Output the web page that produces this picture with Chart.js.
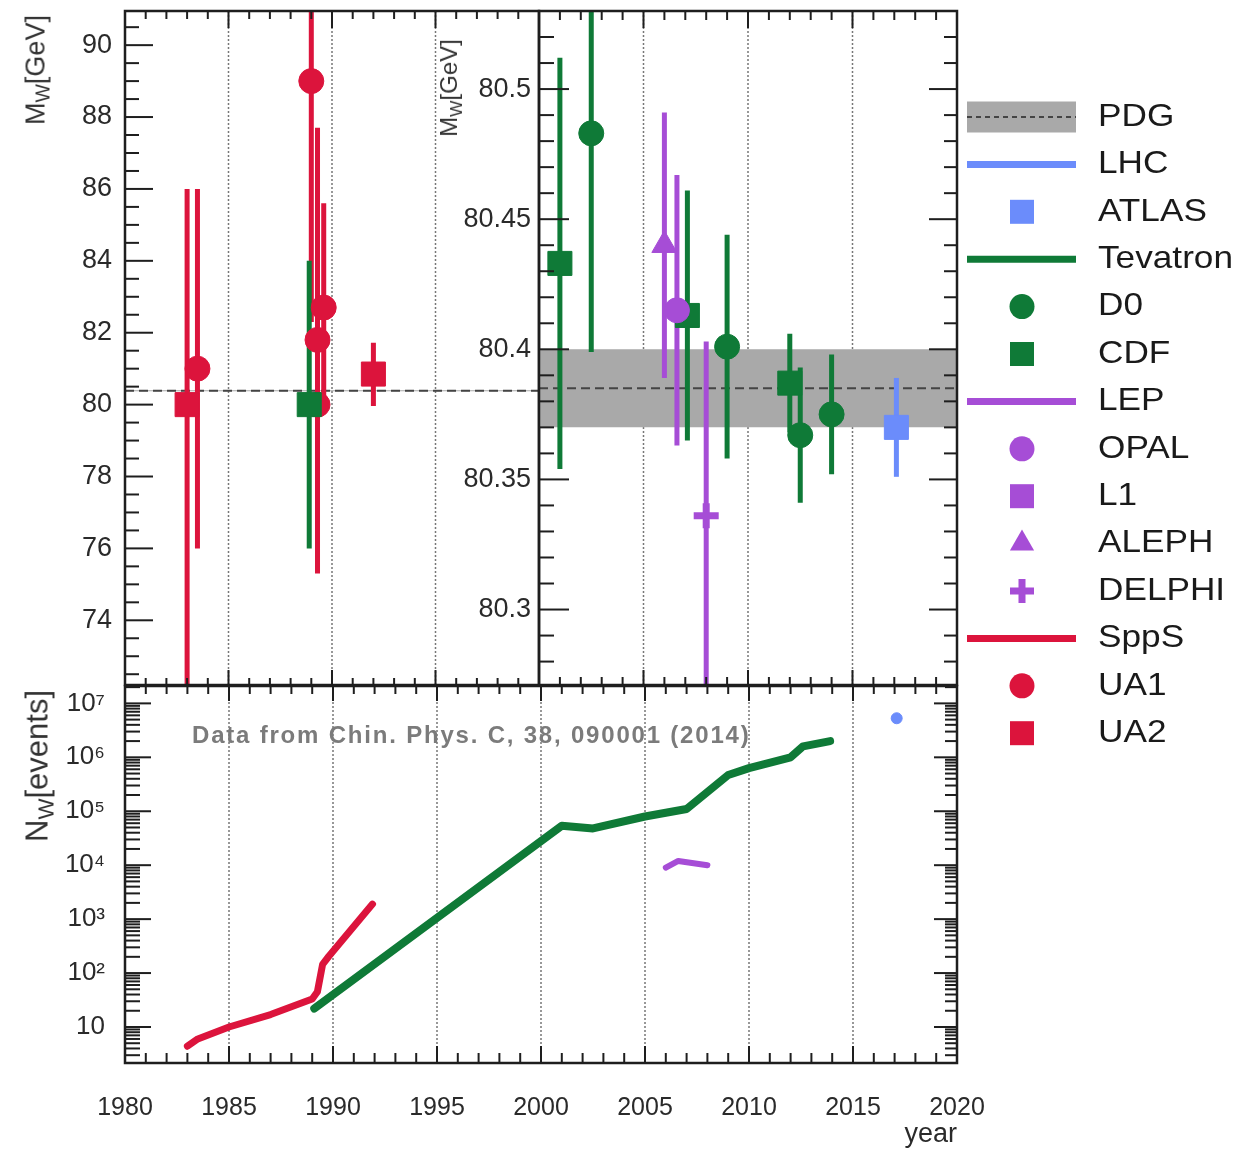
<!DOCTYPE html>
<html lang="en">
<head>
<meta charset="UTF-8">
<meta name="viewport" content="width=device-width, initial-scale=1.0">
<title>W boson mass measurements</title>
<script src="https://cdn.jsdelivr.net/npm/chart.js@4.4.3/dist/chart.umd.min.js"></script>
<style>
  body { margin: 0; background: #fff; font-family: 'Liberation Sans', Arial, sans-serif; }
  #page { position: relative; width: 1247px; height: 1155px; overflow: hidden; }
  #page canvas { position: absolute; }
  .ytitle { position: absolute; color: #333; white-space: nowrap; line-height: 1; transform: translate(-50%, -50%) rotate(-90deg); }
  .ytitle sub { font-size: 72%; vertical-align: -0.28em; line-height: 0; }
  #note { position: absolute; left: 192px; top: 723px; font-size: 24px; line-height: 1; font-weight: bold; letter-spacing: 1.8px; color: #7b7b7b; white-space: nowrap; }
</style>
</head>
<body>
<div id="page">
  <canvas id="topLeft" width="545" height="700" style="left:0;top:0"></canvas>
  <canvas id="topRight" width="847" height="770" style="left:400px;top:0"></canvas>
  <canvas id="bottom" width="1247" height="475" style="left:0;top:680px"></canvas>
  <div class="ytitle" style="left:36px;top:70px;font-size:27px">M<sub>W</sub>[GeV]</div>
  <div class="ytitle" style="left:449px;top:88px;font-size:24px">M<sub>W</sub>[GeV]</div>
  <div class="ytitle" style="left:37px;top:766px;font-size:31px">N<sub>W</sub>[events]</div>
  <div id="note">Data from Chin. Phys. C, 38, 090001 (2014)</div>
</div>
<script>
// --- SppS era (GeV), asymmetric error bars ---
const ua1Year = [1983.5, 1989.0, 1989.3, 1989.3, 1989.6];
const ua1Mass = [81.0, 89.0, 81.8, 80.0, 82.7];
const ua1Low  = [76.0, 82.3, 75.3, 78.5, 79.8];
const ua1High = [86.0, 95.7, 87.7, 81.5, 85.6];
const ua2Year = [1983.0, 1992.0];
const ua2Mass = [80.0, 80.85];
const ua2Low  = [70.0, 79.96];
const ua2High = [86.0, 81.72];
const cdf89Year = [1988.9];
const cdf89Mass = [80.0];
const cdf89Low  = [76.0];
const cdf89High = [84.0];

// --- precision era (GeV), symmetric errors ---
const d0Year = [2002.5, 2009.0, 2012.5, 2014.0];
const d0Mass = [80.483, 80.401, 80.367, 80.375];
const d0Err  = [0.084, 0.043, 0.026, 0.023];
const cdfYear = [2001.0, 2007.1, 2012.0];
const cdfMass = [80.433, 80.413, 80.387];
const cdfErr  = [0.079, 0.048, 0.019];
const alephYear = [2006.0], alephMass = [80.440], alephErr = [0.051];
const opalYear = [2006.6], opalMass = [80.415], opalErr = [0.052];
const l3Year = [], l3Mass = [], l3Err = [];
const delphiYear = [2008.0], delphiMass = [80.336], delphiErr = [0.067];
const atlasYear = [2017.1], atlasMass = [80.370], atlasErr = [0.019];
const pdgMass = 80.385, pdgErr = 0.015;

// --- number of W events ---
const sppsYear = [1983.0, 1983.5, 1985.0, 1987.0, 1989.0, 1989.25, 1989.5, 1989.8, 1991.9];
const sppsEvents = [4.4, 6, 10, 17, 33, 45, 145, 205, 1900];
const tevYear = [1989.1, 2001.0, 2002.5, 2005.0, 2007.0, 2009.0, 2010.0, 2012.0, 2012.6, 2013.9];
const tevEvents = [22, 5.4e4, 4.8e4, 8e4, 1.1e5, 4.7e5, 6.3e5, 1.0e6, 1.6e6, 2.0e6];
const lepYear = [2006.0, 2006.6, 2008.0];
const lepEvents = [9000, 1.2e4, 1.0e4];
const lhcYear = [2017.1];
const lhcEvents = [5.3e6];

// --- axis ticks ---
const leftTicks = [74, 76, 78, 80, 82, 84, 86, 88, 90];
const leftLabels = ['74', '76', '78', '80', '82', '84', '86', '88', '90'];
const rightTicks = [80.3, 80.35, 80.4, 80.45, 80.5];
const rightLabels = ['80.3', '80.35', '80.4', '80.45', '80.5'];
const logTicks = [10, 1e2, 1e3, 1e4, 1e5, 1e6, 1e7];
const logLabels = ['10', '10²', '10³', '10⁴', '10⁵', '10⁶', '10⁷'];
const yearTicks = [1980, 1985, 1990, 1995, 2000, 2005, 2010, 2015, 2020];
const yearLabels = ['1980', '1985', '1990', '1995', '2000', '2005', '2010', '2015', '2020'];

const RED = '#dc143c', GREEN = '#0f7a37', PURPLE = '#a64dd6', BLUE = '#6b8cfb', BAND = '#a9a9a9';
const FONT = "'Liberation Sans', Arial, sans-serif";
Chart.defaults.font.family = FONT;
Chart.defaults.font.size = 25;
Chart.defaults.color = '#2a2a2a';

const pts = (xs, ys) => xs.map((x, i) => ({x, y: ys[i]}));
const segs = (xs, lo, hi) => xs.flatMap((x, i) => [{x, y: lo[i]}, {x, y: hi[i]}, {x, y: null}]);
const minus = (c, e) => c.map((v, i) => v - e[i]);
const plus = (c, e) => c.map((v, i) => v + e[i]);

function markerSet(label, xs, ys, style, color, r) {
  return {
    label, data: pts(xs, ys), showLine: false,
    pointStyle: style, pointRadius: r,
    pointBackgroundColor: color, pointBorderColor: color,
    pointBorderWidth: style === 'cross' ? 7 : 1
  };
}
function errorSet(xs, lo, hi, color) {
  return {data: segs(xs, lo, hi), showLine: true, spanGaps: false, borderColor: color,
          borderWidth: 5, borderCapStyle: 'butt', pointRadius: 0};
}
function lineSet(label, xs, ys, color, w) {
  return {label, data: pts(xs, ys), showLine: true, borderColor: color, borderWidth: w,
          borderCapStyle: 'round', borderJoinStyle: 'round', pointRadius: 0};
}
function pdgSets(x0, x1) {
  return [
    {data: [{x: x0, y: pdgMass}, {x: x1, y: pdgMass}], showLine: true, borderColor: '#444',
     borderWidth: 2, borderDash: [9, 5], pointRadius: 0},
    {data: [{x: x0, y: pdgMass + pdgErr}, {x: x1, y: pdgMass + pdgErr}], showLine: true,
     borderWidth: 0, pointRadius: 0, fill: '+1', backgroundColor: BAND},
    {data: [{x: x0, y: pdgMass - pdgErr}, {x: x1, y: pdgMass - pdgErr}], showLine: true,
     borderWidth: 0, pointRadius: 0}
  ];
}

// ROOT style frame: inward ticks on all sides, dotted grid every 5 years
const rootFrame = {
  id: 'rootFrame',
  beforeDatasetsDraw(chart) {
    const {ctx, chartArea: a, scales: {x}} = chart;
    ctx.save();
    ctx.strokeStyle = '#777';
    ctx.lineWidth = 1.5;
    ctx.setLineDash([2, 2]);
    for (let v = Math.ceil(x.min / 5) * 5; v <= x.max; v += 5) {
      const px = x.getPixelForValue(v);
      if (px < a.left + 3 || px > a.right - 3) continue;
      ctx.beginPath(); ctx.moveTo(px, a.top); ctx.lineTo(px, a.bottom); ctx.stroke();
    }
    ctx.restore();
  },
  afterDraw(chart, args, o) {
    const {ctx, chartArea: a, scales: {x, y}} = chart;
    const tick = (x0, y0, x1, y1) => { ctx.beginPath(); ctx.moveTo(x0, y0); ctx.lineTo(x1, y1); ctx.stroke(); };
    ctx.save();
    ctx.strokeStyle = '#1e1e1e';
    ctx.lineWidth = 2;
    for (let v = Math.ceil(x.min); v <= x.max; v++) {
      const px = x.getPixelForValue(v), m = v % 5 === 0 ? 0 : 1;
      tick(px, a.top, px, a.top + o.xTop[m]);
      tick(px, a.bottom, px, a.bottom - o.xBottom[m]);
    }
    const yt = [];
    if (o.log) {
      for (let e = Math.floor(Math.log10(y.min)); e <= Math.ceil(Math.log10(y.max)); e++)
        for (let k = 1; k < 10; k++) yt.push([k * 10 ** e, k === 1 ? 0 : 1]);
    } else {
      const ratio = Math.round(o.yMajor / o.yMinor);
      for (let n = Math.ceil(y.min / o.yMinor - 1e-9); n * o.yMinor <= y.max + 1e-9; n++)
        yt.push([n * o.yMinor, n % ratio === 0 ? 0 : 1]);
    }
    yt.forEach(([v, m]) => {
      if (v < y.min || v > y.max) return;
      const py = y.getPixelForValue(v);
      if (o.yLeft[m]) tick(a.left, py, a.left + o.yLeft[m], py);
      if (o.yRight[m]) tick(a.right, py, a.right - o.yRight[m], py);
    });
    ctx.lineWidth = 2.5;
    ctx.strokeRect(a.left, a.top, a.right - a.left, a.bottom - a.top);
    ctx.restore();
  }
};

const legendItems = [
  {label: 'PDG', kind: 'band'},
  {label: 'LHC', kind: 'line', color: BLUE},
  {label: 'ATLAS', kind: 'rect', color: BLUE},
  {label: 'Tevatron', kind: 'line', color: GREEN},
  {label: 'D0', kind: 'circle', color: GREEN},
  {label: 'CDF', kind: 'rect', color: GREEN},
  {label: 'LEP', kind: 'line', color: PURPLE},
  {label: 'OPAL', kind: 'circle', color: PURPLE},
  {label: 'L1', kind: 'rect', color: PURPLE},
  {label: 'ALEPH', kind: 'triangle', color: PURPLE},
  {label: 'DELPHI', kind: 'cross', color: PURPLE},
  {label: 'SppS', kind: 'line', color: RED},
  {label: 'UA1', kind: 'circle', color: RED},
  {label: 'UA2', kind: 'rect', color: RED}
];

const sideLegend = {
  id: 'sideLegend',
  afterDraw(chart, args, o) {
    const ctx = chart.ctx;
    ctx.save();
    legendItems.forEach((it, i) => {
      const y = o.top + i * o.step, mx = o.markX;
      ctx.fillStyle = it.color || BAND;
      ctx.strokeStyle = it.color || BAND;
      if (it.kind === 'band') {
        ctx.fillRect(o.lineX[0], y - 15.5, o.lineX[1] - o.lineX[0], 31);
        ctx.strokeStyle = '#444'; ctx.lineWidth = 2; ctx.setLineDash([5, 4]);
        ctx.beginPath(); ctx.moveTo(o.lineX[0], y); ctx.lineTo(o.lineX[1], y); ctx.stroke();
        ctx.setLineDash([]);
      } else if (it.kind === 'line') {
        ctx.lineWidth = 7;
        ctx.beginPath(); ctx.moveTo(o.lineX[0], y); ctx.lineTo(o.lineX[1], y); ctx.stroke();
      } else if (it.kind === 'rect') {
        ctx.fillRect(mx - 12, y - 12, 24, 24);
      } else if (it.kind === 'circle') {
        ctx.beginPath(); ctx.arc(mx, y, 12.5, 0, Math.PI * 2); ctx.fill();
      } else if (it.kind === 'triangle') {
        const r = 14;
        ctx.beginPath(); ctx.moveTo(mx, y - r); ctx.lineTo(mx + 0.866 * r, y + r / 2);
        ctx.lineTo(mx - 0.866 * r, y + r / 2); ctx.closePath(); ctx.fill();
      } else if (it.kind === 'cross') {
        ctx.lineWidth = 7;
        ctx.beginPath(); ctx.moveTo(mx - 12, y); ctx.lineTo(mx + 12, y);
        ctx.moveTo(mx, y - 12); ctx.lineTo(mx, y + 12); ctx.stroke();
      }
      ctx.fillStyle = '#1a1a1a';
      ctx.font = '32px ' + FONT;
      ctx.textBaseline = 'middle';
      ctx.save();
      ctx.translate(o.textX, y);
      ctx.scale(1.1, 1);
      ctx.fillText(it.label, 0, 0);
      ctx.restore();
    });
    ctx.restore();
  }
};

function yAxis(type, min, max, width, pad, size, values, labels) {
  return {
    type, min, max, stacked: false,
    grid: {display: false, drawTicks: false}, border: {display: false},
    ticks: {padding: pad, font: {size}, autoSkip: false, callback: (v, i) => labels[i]},
    afterBuildTicks: s => { s.ticks = values.map(v => ({value: v})); },
    afterFit: s => { s.width = width; s.paddingTop = 0; s.paddingBottom = 0; }
  };
}
function baseOptions(padding, scales, frame, extra) {
  return {
    responsive: false, animation: false, events: [], devicePixelRatio: 1,
    layout: {padding, autoPadding: false},
    scales,
    plugins: Object.assign({legend: {display: false}, tooltip: {enabled: false}, rootFrame: frame}, extra || {})
  };
}

new Chart(document.getElementById('topLeft'), {
  type: 'scatter',
  data: {datasets: [
    markerSet('CDF', cdf89Year, cdf89Mass, 'rect', GREEN, 17),
    markerSet('UA1', ua1Year, ua1Mass, 'circle', RED, 12.5),
    markerSet('UA2', ua2Year, ua2Mass, 'rect', RED, 17),
    errorSet(cdf89Year, cdf89Low, cdf89High, GREEN),
    errorSet(ua1Year, ua1Low, ua1High, RED),
    errorSet(ua2Year, ua2Low, ua2High, RED),
    ...pdgSets(1980, 2000)
  ]},
  options: baseOptions({left: 0, top: 11, right: 6, bottom: 15}, {
    x: {type: 'linear', min: 1980, max: 2000, display: false},
    y: yAxis('linear', 72.2, 90.95, 125, 13, 27, leftTicks, leftLabels)
  }, {xTop: [17, 8], xBottom: [15, 7], yMajor: 2, yMinor: 0.5, yLeft: [28, 14], yRight: [0, 0]}),
  plugins: [rootFrame]
});

new Chart(document.getElementById('topRight'), {
  type: 'scatter',
  data: {datasets: [
    markerSet('ATLAS', atlasYear, atlasMass, 'rect', BLUE, 17),
    markerSet('OPAL', opalYear, opalMass, 'circle', PURPLE, 12.5),
    markerSet('L1', l3Year, l3Mass, 'rect', PURPLE, 17),
    markerSet('ALEPH', alephYear, alephMass, 'triangle', PURPLE, 14.5),
    markerSet('DELPHI', delphiYear, delphiMass, 'cross', PURPLE, 12.5),
    markerSet('D0', d0Year, d0Mass, 'circle', GREEN, 12.5),
    markerSet('CDF', cdfYear, cdfMass, 'rect', GREEN, 17),
    errorSet(atlasYear, minus(atlasMass, atlasErr), plus(atlasMass, atlasErr), BLUE),
    errorSet(opalYear, minus(opalMass, opalErr), plus(opalMass, opalErr), PURPLE),
    errorSet(alephYear, minus(alephMass, alephErr), plus(alephMass, alephErr), PURPLE),
    errorSet(delphiYear, minus(delphiMass, delphiErr), plus(delphiMass, delphiErr), PURPLE),
    errorSet(d0Year, minus(d0Mass, d0Err), plus(d0Mass, d0Err), GREEN),
    errorSet(cdfYear, minus(cdfMass, cdfErr), plus(cdfMass, cdfErr), GREEN),
    ...pdgSets(2000, 2020)
  ]},
  options: baseOptions({left: 0, top: 11, right: 290, bottom: 85}, {
    x: {type: 'linear', min: 2000, max: 2020, display: false},
    y: yAxis('linear', 80.271, 80.530, 139, 8, 27, rightTicks, rightLabels)
  }, {xTop: [17, 9], xBottom: [15, 8], yMajor: 0.05, yMinor: 0.01, yLeft: [30, 15], yRight: [28, 13]},
  {sideLegend: {top: 117, step: 47.4, lineX: [567, 676], markX: 622, textX: 698}}),
  plugins: [rootFrame, sideLegend]
});

new Chart(document.getElementById('bottom'), {
  type: 'scatter',
  data: {datasets: [
    markerSet('LHC', lhcYear, lhcEvents, 'circle', BLUE, 5.5),
    lineSet('Tevatron', tevYear, tevEvents, GREEN, 8),
    lineSet('LEP', lepYear, lepEvents, PURPLE, 6),
    lineSet('SppS', sppsYear, sppsEvents, RED, 7)
  ]},
  options: baseOptions({left: 0, top: 6, right: 290, bottom: 0}, {
    x: {
      type: 'linear', min: 1980, max: 2020,
      grid: {display: false, drawTicks: false}, border: {display: false},
      ticks: {padding: 30, maxRotation: 0, autoSkip: false, callback: (v, i) => yearLabels[i]},
      afterBuildTicks: s => { s.ticks = yearTicks.map(v => ({value: v})); },
      title: {display: true, text: 'year', align: 'end', font: {size: 27}, padding: {top: 4, bottom: 4}},
      afterFit: s => { s.height = 92; s.paddingLeft = 0; s.paddingRight = 0; }
    },
    y: yAxis('logarithmic', 2.15, 2.1e7, 125, 20, 26, logTicks, logLabels)
  }, {log: true, xTop: [15, 8], xBottom: [17, 10], yLeft: [26, 15], yRight: [23, 12]}),
  plugins: [rootFrame]
});
</script>
</body>
</html>
